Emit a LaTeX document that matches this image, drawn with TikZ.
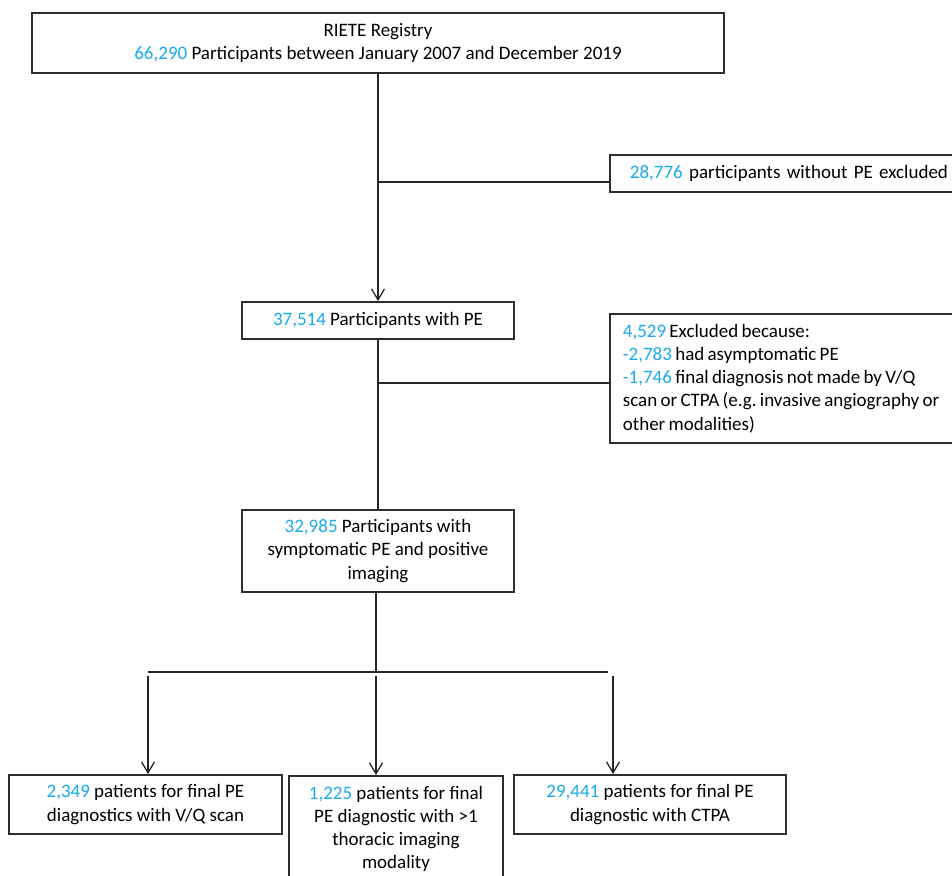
\documentclass[tikz,border=0pt]{standalone}
\usepackage{fontspec}
\setmainfont{Carlito}
\usetikzlibrary{arrows.meta}
\definecolor{numblue}{RGB}{25,170,235}
\definecolor{boxline}{RGB}{45,45,45}
\newcommand{\nb}[1]{\textcolor{numblue}{#1}}
\newcommand{\tightsp}{\spaceskip=3.3pt plus 0.4pt minus 0.4pt\relax}
\frenchspacing
\begin{document}
\begin{tikzpicture}[x=1pt,y=-1pt,
  box/.style={draw=boxline, line width=1.8pt, fill=white, inner sep=0pt,
    font=\fontsize{19}{23.3}\selectfont\frenchspacing, align=center},
  conn/.style={draw=black!85, line width=1.3pt},
  arr/.style={conn, -{Straight Barb[length=11pt,width=13pt]}}]
\useasboundingbox (0,0) rectangle (952,875);
\clip (0,0) rectangle (952,875);
\fill[white] (0,0) rectangle (952,875);

\node[box, minimum width=692, minimum height=60] (reg) at (378,43)
  {RIETE Registry\\\nb{66,290} Participants between January 2007 and December 2019};
\node[box, anchor=north west, text width=340pt, align=left, inner xsep=20pt,
  minimum height=37] (ex1) at (609,154)
  {\nb{28,776} participants without PE excluded};
\node[box, minimum width=272, minimum height=37] (pe) at (378,320.5)
  {\nb{37,514} Participants with PE};
\node[box, anchor=north west, text width=400pt, align=left, inner xsep=13pt,
  minimum height=129] (ex2) at (609,313)
  {\tightsp\nb{4,529} Excluded because:\\
   \nb{-2,783} had asymptomatic PE\\
   \nb{-1,746} final diagnosis not made by V/Q\\
   scan or CTPA (e.g. invasive angiography or\\
   other modalities)};
\node[box, minimum width=272, minimum height=82] (sym) at (378,551)
  {\nb{32,985} Participants with\\symptomatic PE and positive\\imaging};
\node[box, minimum width=273, minimum height=59] (vq) at (145.5,804.5)
  {\nb{2,349} patients for final PE\\diagnostics with V/Q scan};
\node[box, anchor=north, minimum width=214, minimum height=106] (multi) at (396,775)
  {\nb{1,225} patients for final\\PE diagnostic with >1\\thoracic imaging\\modality};
\node[box, minimum width=272, minimum height=59] (ctpa) at (650,804.5)
  {\nb{29,441} patients for final PE\\diagnostic with CTPA};

\draw[arr] (reg.south) -- (pe.north);
\coordinate (j1) at (378,182);
\draw[conn] (j1) -- (j1 -| ex1.west);
\draw[conn] (pe.south) -- (sym.north);
\coordinate (j2) at (378,383);
\draw[conn] (j2) -- (j2 -| ex2.west);
\coordinate (split) at (376,672);
\draw[conn] (sym.south -| split) -- (split);
\coordinate (hl) at (148,672);
\coordinate (hr) at (608,672);
\draw[conn] (hl) -- (hr);
\coordinate (a1) at (148,676);
\coordinate (a2) at (376,676);
\coordinate (a3) at (613,676);
\draw[arr] (a1) -- (a1 |- vq.north);
\draw[arr] (a2) -- (a2 |- multi.north);
\draw[arr] (a3) -- (a3 |- ctpa.north);
\end{tikzpicture}
\end{document}
